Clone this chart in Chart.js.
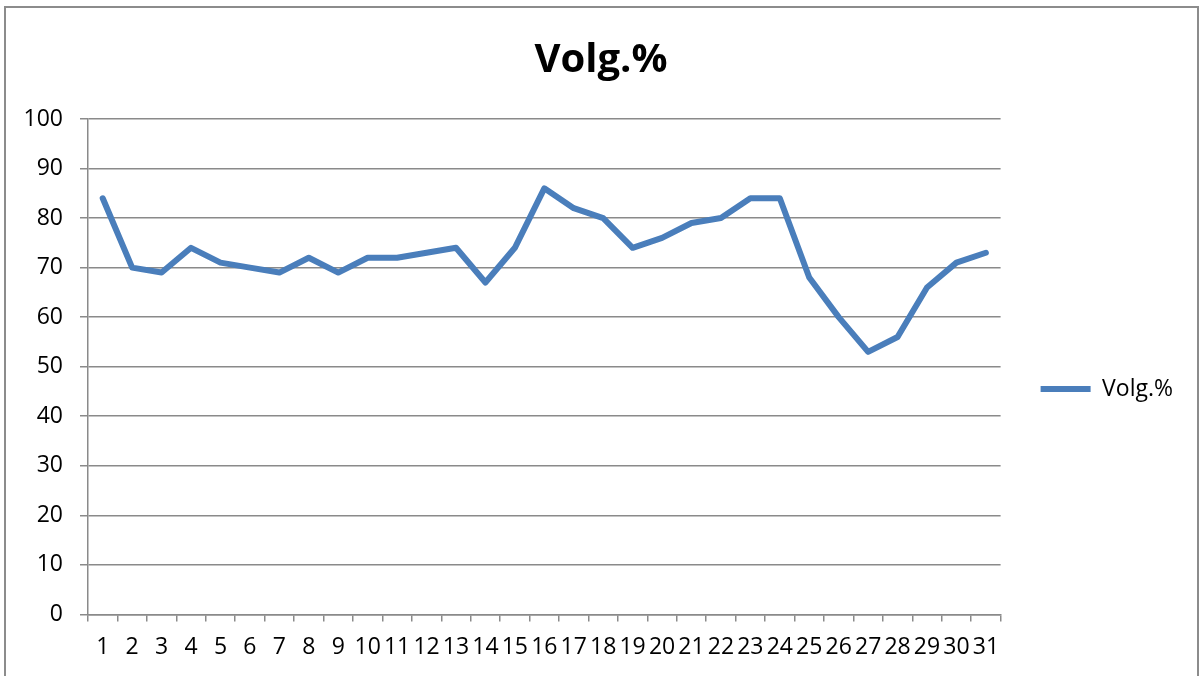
<!DOCTYPE html>
<html>
<head>
<meta charset="utf-8">
<script src="https://cdn.jsdelivr.net/npm/chart.js@4/dist/chart.umd.min.js"></script>
<style>
  html, body { margin: 0; padding: 0; background: #fff; }
  #wrap { position: relative; width: 1200px; height: 676px; overflow: hidden; }
  #frame { position: absolute; left: 4px; top: 6px; width: 1195px; height: 700px; border: 2px solid #8c8c8c; box-sizing: border-box; pointer-events: none; }
  canvas { position: absolute; left: 0; top: 0; }
</style>
</head>
<body>
<div id="wrap">
  <canvas id="c" width="1200" height="676"></canvas>
  <div id="frame"></div>
</div>
<script>
const title = 'Volg.%';
const seriesName = 'Volg.%';
const days = ['1','2','3','4','5','6','7','8','9','10','11','12','13','14','15','16','17','18','19','20','21','22','23','24','25','26','27','28','29','30','31'];
const volg = [84,70,69,74,71,70,69,72,69,72,72,73,74,67,74,86,82,80,74,76,79,80,84,84,68,60,53,56,66,71,73];
const yMin = 0, yMax = 100, yStep = 10;

const FONT = "'Open Sans', sans-serif";
const grey = '#8a8a8a';

new Chart(document.getElementById('c'), {
  type: 'line',
  data: {
    labels: days,
    datasets: [{
      label: seriesName,
      data: volg,
      borderColor: '#4a7ebb',
      backgroundColor: '#4a7ebb',
      borderWidth: 6,
      borderCapStyle: 'round',
      borderJoinStyle: 'round',
      pointRadius: 0,
      pointHoverRadius: 0,
      tension: 0,
      fill: false
    }]
  },
  options: {
    responsive: false,
    animation: false,
    devicePixelRatio: 1,
    layout: { padding: { left: 19, right: 17, top: 10, bottom: 3 } },
    plugins: {
      title: {
        display: true,
        text: title,
        color: '#000',
        font: { family: FONT, size: 40, weight: 'bold' },
        padding: { top: 27, bottom: 34 }
      },
      legend: {
        display: true,
        position: 'right',
        title: { display: true, text: '', font: { size: 10, lineHeight: 1 }, padding: { top: 0, bottom: 85 } },
        labels: {
          usePointStyle: true,
          pointStyle: 'line',
          pointStyleWidth: 50,
          padding: 40,
          color: '#000',
          font: { family: FONT, size: 23 }
        }
      },
      tooltip: { enabled: false }
    },
    scales: {
      x: {
        offset: true,
        grid: { display: true, drawOnChartArea: false, drawTicks: true, tickLength: 7, offset: true, color: grey, lineWidth: 1.5 },
        border: { display: true, color: grey, width: 1.5 },
        ticks: { color: '#000', font: { family: FONT, size: 23 }, autoSkip: false, maxRotation: 0, padding: 12 }
      },
      y: {
        min: yMin,
        max: yMax,
        grid: { display: true, drawOnChartArea: true, drawTicks: true, tickLength: 8, color: grey, lineWidth: 1.5 },
        border: { display: true, color: grey, width: 1.5 },
        ticks: { stepSize: yStep, color: '#000', font: { family: FONT, size: 23 }, padding: 17 },
        afterFit: (s) => { s.width = 69; }
      }
    }
  }
});
</script>
</body>
</html>
